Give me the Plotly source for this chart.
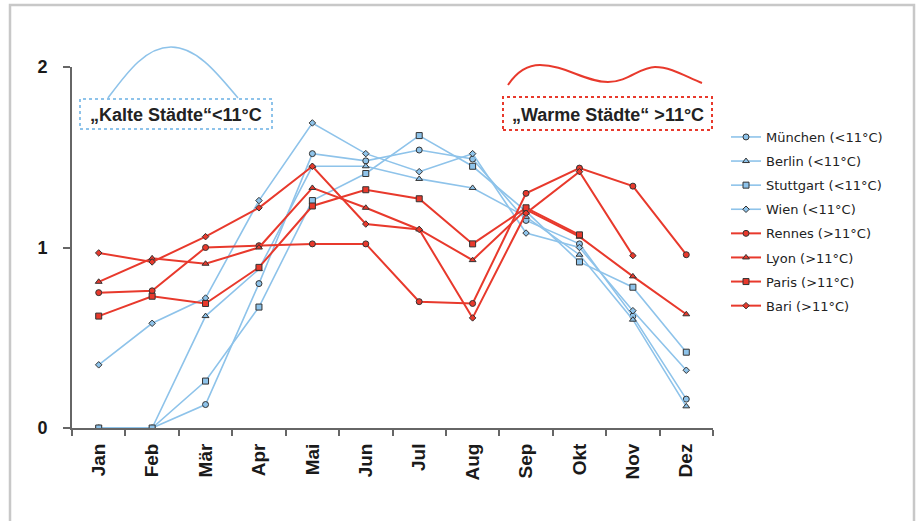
import plotly.graph_objects as go

# Monthly index values per city
months = ["Jan", "Feb", "Mär", "Apr", "Mai", "Jun", "Jul", "Aug", "Sep", "Okt", "Nov", "Dez"]

muenchen = [0, 0, 0.13, 0.80, 1.52, 1.48, 1.54, 1.49, 1.15, 1.02, 0.62, 0.16]
berlin = [0, 0, 0.62, 0.88, 1.45, 1.45, 1.38, 1.33, 1.17, 0.96, 0.60, 0.12]
stuttgart = [0, 0, 0.26, 0.67, 1.26, 1.41, 1.62, 1.45, 1.20, 0.92, 0.78, 0.42]
wien = [0.35, 0.58, 0.72, 1.26, 1.69, 1.52, 1.42, 1.52, 1.08, 1.00, 0.65, 0.32]

rennes = [0.75, 0.76, 1.00, 1.01, 1.02, 1.02, 0.70, 0.69, 1.30, 1.44, 1.34, 0.96]
lyon = [0.81, 0.94, 0.91, 1.00, 1.33, 1.22, 1.10, 0.93, 1.21, 1.06, 0.84, 0.63]
paris = [0.62, 0.73, 0.69, 0.89, 1.23, 1.32, 1.27, 1.02, 1.22, 1.07, None, None]
bari = [0.97, 0.92, 1.06, 1.22, 1.45, 1.13, 1.10, 0.61, 1.19, 1.42, 0.955, None]

cold_names = ["München (<11°C)", "Berlin (<11°C)", "Stuttgart (<11°C)", "Wien (<11°C)"]
warm_names = ["Rennes (>11°C)", "Lyon (>11°C)", "Paris (>11°C)", "Bari (>11°C)"]

BLUE = "#8ec3ea"
RED = "#e8392c"
OUTLINE = "#333333"

W, H = 919, 521
L, R, T, B = 72, 713, 67, 428  # plot area in pixels


def px(x):
    return (x - L) / (R - L)


def py(y):
    return (B - y) / (B - T)


fig = go.Figure()

symbols = ["circle", "triangle-up", "square", "diamond"]
sizes = [6, 6, 6, 5]

for i, (name, vals) in enumerate(zip(cold_names, [muenchen, berlin, stuttgart, wien])):
    fig.add_trace(go.Scatter(
        x=months, y=vals, name=name, mode="lines+markers",
        legendgroup=name,
        line=dict(color=BLUE, width=1.6),
        marker=dict(symbol=symbols[i], size=sizes[i], color=BLUE,
                    line=dict(color=OUTLINE, width=1)),
        connectgaps=False,
    ))

for i, (name, vals) in enumerate(zip(warm_names, [rennes, lyon, paris, bari])):
    fig.add_trace(go.Scatter(
        x=months, y=vals, name=name, mode="lines+markers",
        legendgroup=name,
        line=dict(color=RED, width=2),
        marker=dict(symbol=symbols[i], size=sizes[i], color=RED,
                    line=dict(color=OUTLINE, width=1)),
        connectgaps=False,
    ))

shapes = []
# outer frame (left, top, right edges)
frame = dict(type="path", xref="paper", yref="paper",
             path=f"M{px(10)},{py(521)} L{px(10)},{py(5)} L{px(914)},{py(5)} L{px(914)},{py(521)}",
             line=dict(color="#c8c8c8", width=2.5), layer="below")
shapes.append(frame)

# cold-city hump
hump = (f"M{px(108)},{py(98)} "
        f"C{px(126)},{py(74)} {px(145)},{py(47)} {px(171)},{py(47)} "
        f"C{px(197)},{py(47)} {px(218)},{py(74)} {px(238)},{py(98)}")
shapes.append(dict(type="path", xref="paper", yref="paper", path=hump,
                   line=dict(color=BLUE, width=1.6)))

# warm-city wave
wave = (f"M{px(508)},{py(85)} "
        f"C{px(518)},{py(70)} {px(528)},{py(65)} {px(540)},{py(65)} "
        f"C{px(565)},{py(65)} {px(585)},{py(82)} {px(608)},{py(82)} "
        f"C{px(628)},{py(82)} {px(640)},{py(67)} {px(655)},{py(67)} "
        f"C{px(672)},{py(67)} {px(688)},{py(78)} {px(702)},{py(83)}")
shapes.append(dict(type="path", xref="paper", yref="paper", path=wave,
                   line=dict(color=RED, width=2)))

# label boxes
shapes.append(dict(type="rect", xref="paper", yref="paper",
                   x0=px(80), x1=px(272), y0=py(129), y1=py(99),
                   line=dict(color=BLUE, width=2, dash="dot"), fillcolor="white"))
shapes.append(dict(type="rect", xref="paper", yref="paper",
                   x0=px(503), x1=px(712), y0=py(130), y1=py(97),
                   line=dict(color=RED, width=2, dash="dot"), fillcolor="white"))

label_font = dict(family="Liberation Sans, Arial", size=18, color="#222222", weight="bold")
annotations = [
    dict(text="„Kalte Städte“<11°C", xref="paper", yref="paper",
         x=px(176), y=py(115), xanchor="center", yanchor="middle", showarrow=False,
         font=label_font),
    dict(text="„Warme Städte“ >11°C", xref="paper", yref="paper",
         x=px(608), y=py(115), xanchor="center", yanchor="middle", showarrow=False,
         font=label_font),
]

fig.update_layout(
    width=W, height=H,
    margin=dict(l=L, r=W - R, t=T, b=H - B, pad=0),
    paper_bgcolor="white", plot_bgcolor="white",
    shapes=shapes, annotations=annotations,
    showlegend=True,
    legend=dict(x=px(726), y=py(122), xanchor="left", yanchor="top",
                font=dict(family="DejaVu Sans, Verdana", size=13, color="#222222"),
                tracegroupgap=4.2, itemwidth=30, bgcolor="rgba(0,0,0,0)"),
    xaxis=dict(
        type="category", categoryorder="array", categoryarray=months,
        range=[-0.5, 11.5], showgrid=False, zeroline=False,
        showline=True, linecolor="#666666", linewidth=2,
        ticks="outside", tickson="boundaries", ticklen=6, tickwidth=1.5, tickcolor="#666666",
        tickangle=-90, ticklabelstandoff=6,
        tickfont=dict(family="Liberation Sans, Arial", size=19, color="#1a1a1a", weight="bold"),
    ),
    yaxis=dict(
        range=[0, 2], tickvals=[0, 1, 2], showgrid=False, zeroline=False,
        showline=True, linecolor="#666666", linewidth=2,
        ticks="outside", ticklen=7, tickwidth=1.5, tickcolor="#666666",
        tickfont=dict(family="Liberation Sans, Arial", size=18, color="#1a1a1a", weight="bold"),
        ticklabelstandoff=12,
    ),
)

fig.write_html("out.html")
